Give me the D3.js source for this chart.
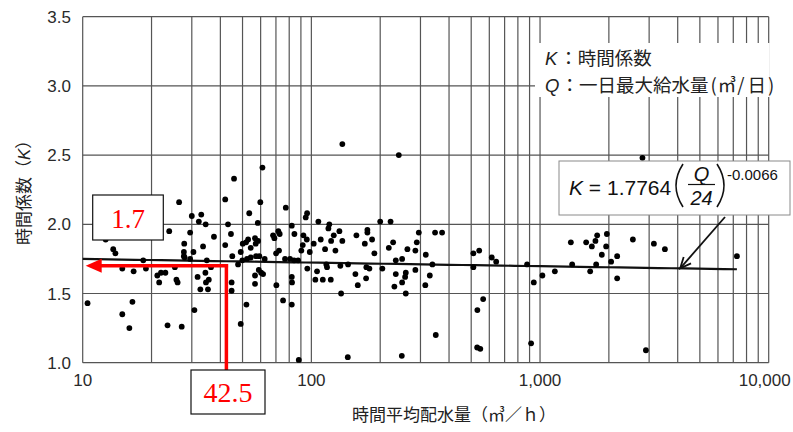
<!DOCTYPE html>
<html>
<head>
<meta charset="utf-8">
<script src="https://cdn.jsdelivr.net/npm/d3@7"></script>
<style>
  body { margin: 0; background: #fff; }
  svg { display: block; }
</style>
</head>
<body>
<svg id="chart"></svg>
<script>
// 時間平均配水量 (m3/h) と 時間係数 K の実測点
const flowRate = [
  45.9, 42, 26.4, 30, 33, 32.2, 34.5, 43.2, 23.9, 29.5, 44.5, 37.5, 12.6, 27.8, 33.6, 42, 13.6, 13.9,
  27.7, 30.5, 27.7, 45.1, 49.1, 27.9, 29.5, 34.9, 18.4, 47.8, 14.9, 16.7, 18.9, 25.3, 36.4, 21.2, 22, 23,
  31.8, 34.4, 35.6, 34.6, 21.6, 25.7, 26, 44.8, 32.7, 35.3, 44.8, 10.5, 16.5, 14.9, 30.8, 16, 23.5, 27.1,
  136.6, 61.1, 59.8, 77.3, 53.5, 95.8, 94.5, 58.3, 82.1, 107.3, 119.8, 118.7, 200, 222, 71.7, 72.7, 84.3,
  68, 68.9, 92.3, 95.5, 132.6, 125.3, 122, 109.9, 136.6, 157.4, 175.8, 175.8, 184.3, 171.3, 188.6, 218.1,
  50.1, 51.8, 52.9, 56.7, 58.5, 57.1, 54.3, 52.3, 54.3, 57.3, 59.2, 62.5, 49.9, 70.1, 72.2, 90.4, 91.7,
  98.4, 102.4, 114.8, 127.4, 76.7, 80.7, 84, 87.5, 116.3, 117.1, 133.9, 144.7, 174, 179.4, 204.4, 96,
  105.9, 58.9, 60.3, 61.5, 56.7, 56.7, 82.1, 82.3, 70.3, 104.1, 112.2, 121.6, 155.8, 159.6, 173.5, 134.9,
  52, 75.2, 82.1, 49.1, 88.1, 144.3,
  241.2, 295, 347.5, 373, 227.8, 289.1, 263, 285, 316.5, 234, 249.4, 338.3, 234, 258.8, 257, 285, 329.6,
  230.7, 249.4, 315, 258.8, 350, 248.6, 511, 542, 511, 615, 643, 564, 532, 531, 548, 878, 939, 1024, 914,
  2805, 1364, 1591, 1685, 1747, 1778, 1960, 1946, 1863, 2174, 2547, 3147, 3516, 2046, 1760, 1382, 1161,
  1657, 2174, 7260, 2904
];
const hourCoef = [
  2.33, 2.18, 2.16, 2.06, 2.07, 2.02, 2.00, 2.00, 1.95, 1.94, 1.93, 1.91, 1.89, 1.86, 1.84, 1.85, 1.82, 1.79,
  1.80, 1.80, 1.77, 1.77, 1.80, 1.76, 1.75, 1.74, 1.74, 1.71, 1.68, 1.66, 1.68, 1.69, 1.69, 1.63, 1.65, 1.65,
  1.62, 1.65, 1.60, 1.58, 1.58, 1.60, 1.58, 1.58, 1.53, 1.53, 1.52, 1.43, 1.44, 1.35, 1.38, 1.25, 1.27, 1.26,
  2.58, 2.41, 2.16, 2.12, 2.08, 2.08, 2.05, 2.01, 1.99, 2.02, 2.00, 1.97, 2.02, 2.02, 1.95, 1.93, 1.93,
  1.92, 1.90, 1.92, 1.89, 1.95, 1.92, 1.88, 1.89, 1.88, 1.92, 1.96, 1.94, 1.89, 1.86, 1.79, 1.83,
  1.86, 1.87, 1.89, 1.90, 1.88, 1.86, 1.83, 1.75, 1.76, 1.77, 1.77, 1.75, 1.74, 1.79, 1.81, 1.81, 1.85,
  1.80, 1.86, 1.82, 1.81, 1.75, 1.75, 1.74, 1.74, 1.71, 1.69, 1.70, 1.71, 1.69, 1.68, 1.68, 1.68,
  1.66, 1.67, 1.65, 1.64, 1.63, 1.57, 1.62, 1.58, 1.56, 1.60, 1.60, 1.60, 1.64, 1.56, 1.61, 1.50,
  1.42, 1.45, 1.42, 1.28, 1.02, 1.04,
  2.50, 1.94, 1.94, 1.94, 1.87, 1.87, 1.82, 1.81, 1.78, 1.74, 1.75, 1.71, 1.64, 1.65, 1.62, 1.67, 1.63,
  1.55, 1.58, 1.56, 1.50, 1.20, 1.05, 1.79, 1.81, 1.69, 1.76, 1.73, 1.46, 1.38, 1.11, 1.10, 1.71, 1.58, 1.63, 1.14,
  2.48, 1.87, 1.87, 1.84, 1.88, 1.92, 1.93, 1.84, 1.78, 1.77, 1.89, 1.86, 1.82, 1.73, 1.71, 1.71, 1.66,
  1.66, 1.61, 1.77, 1.09
];

const xTickValues = [10, 100, 1000, 10000];
const xTickLabels = ["10", "100", "1,000", "10,000"];
const yTickValues = [1.0, 1.5, 2.0, 2.5, 3.0, 3.5];
const yTickLabels = ["1.0", "1.5", "2.0", "2.5", "3.0", "3.5"];

// 回帰式 K = 1.7764 (Q/24)^-0.0066
const fitCoef = 1.7764;
const fitExp = -0.0066;
const fitRange = [10, 7260];
const arrowFlow = 4100;

// 赤の読み取り注記
const markFlow = 42.5;
const markK = 1.7;

const W = 793, H = 432;
const margin = { top: 16.7, right: 24.3, bottom: 69.3, left: 82.7 };

const svg = d3.select("#chart")
  .attr("width", W)
  .attr("height", H)
  .style("font-family", "'Liberation Sans', Arial, sans-serif");

const x = d3.scaleLog()
  .domain([10, 10000])
  .range([margin.left, W - margin.right]);

const y = d3.scaleLinear()
  .domain([1, 3.5])
  .range([H - margin.bottom, margin.top]);

const gridColor = "#555";

// 縦グリッド（対数）
const logLines = [];
[10, 100, 1000].forEach(dec => d3.range(1, 10).forEach(m => logLines.push(dec * m)));
logLines.push(10000);

svg.append("g")
  .selectAll("line")
  .data(logLines)
  .join("line")
  .attr("x1", d => x(d)).attr("x2", d => x(d))
  .attr("y1", y(1)).attr("y2", y(3.5))
  .attr("stroke", gridColor)
  .attr("stroke-width", 1.2);

svg.append("g")
  .selectAll("line")
  .data(yTickValues)
  .join("line")
  .attr("x1", x(10)).attr("x2", x(10000))
  .attr("y1", d => y(d)).attr("y2", d => y(d))
  .attr("stroke", gridColor)
  .attr("stroke-width", 1.2);

// 目盛ラベル
svg.append("g")
  .selectAll("text")
  .data(yTickValues)
  .join("text")
  .attr("x", 71)
  .attr("y", d => y(d))
  .attr("dy", "0.36em")
  .attr("text-anchor", "end")
  .attr("font-size", 17)
  .attr("fill", "#2a2a2a")
  .text((d, i) => yTickLabels[i]);

svg.append("g")
  .selectAll("text")
  .data(xTickValues)
  .join("text")
  .attr("x", d => x(d))
  .attr("dx", (d, i) => i === xTickValues.length - 1 ? -4 : 0)
  .attr("y", 386)
  .attr("text-anchor", "middle")
  .attr("font-size", 17)
  .attr("fill", "#2a2a2a")
  .text((d, i) => xTickLabels[i]);

// 軸タイトル
const jp = "'Noto Sans CJK JP', 'Noto Sans', sans-serif";

svg.append("text")
  .attr("x", 352)
  .attr("y", 421)
  .attr("font-family", jp)
  .attr("font-size", 17)
  .attr("fill", "#222")
  .text("時間平均配水量（㎥／ｈ）");

const yt = svg.append("text")
  .attr("transform", "translate(30,245) rotate(-90)")
  .attr("font-family", jp)
  .attr("font-size", 17)
  .attr("fill", "#222");
yt.append("tspan").text("時間係数（");
yt.append("tspan").attr("font-family", "'Liberation Sans', Arial, sans-serif").attr("font-style", "italic").text("K");
yt.append("tspan").text("）");

// 凡例（白地）
svg.append("rect")
  .attr("x", 535).attr("y", 43)
  .attr("width", x(10000) - 535 + 1).attr("height", 54)
  .attr("fill", "#fff");

const lg1 = svg.append("text")
  .attr("x", 545).attr("y", 65)
  .attr("font-family", jp).attr("font-size", 18.5).attr("fill", "#222");
lg1.append("tspan").attr("font-family", "'Liberation Sans', Arial, sans-serif").attr("font-style", "italic").text("K");
lg1.append("tspan").attr("dx", 2).text("：時間係数");

const lg2 = svg.append("text")
  .attr("x", 545).attr("y", 92)
  .attr("font-family", jp).attr("font-size", 18.5).attr("fill", "#222");
lg2.append("tspan").attr("font-family", "'Liberation Sans', Arial, sans-serif").attr("font-style", "italic").text("Q");
lg2.append("tspan").attr("dx", 1).text("：一日最大給水量");
lg2.append("tspan").attr("dx", 2).text("(");
lg2.append("tspan").attr("dx", 1).text("㎥");
lg2.append("tspan").attr("dx", 1).text("/");
lg2.append("tspan").attr("dx", 3).text("日");
lg2.append("tspan").attr("dx", 2).text(")");

// 回帰線
const fit = q => fitCoef * Math.pow(q, fitExp);
const lx = d3.scaleLog().domain(fitRange);
const fitPts = d3.range(0, 1.0001, 0.02).map(t => lx.invert(t)).map(q => [q, fit(q)]);

svg.append("path")
  .datum(fitPts)
  .attr("fill", "none")
  .attr("stroke", "#111")
  .attr("stroke-width", 2.2)
  .attr("d", d3.line().x(d => x(d[0])).y(d => y(d[1])));

// 散布点
svg.append("g")
  .selectAll("circle")
  .data(flowRate.map((q, i) => [q, hourCoef[i]]))
  .join("circle")
  .attr("cx", d => x(d[0]))
  .attr("cy", d => y(d[1]))
  .attr("r", 2.9)
  .attr("fill", "#000");

// 式の枠
const bx = 559, by = 161, bw = 231, bh = 54;
svg.append("rect")
  .attr("x", bx).attr("y", by)
  .attr("width", bw).attr("height", bh)
  .attr("fill", "#fff")
  .attr("stroke", "#8a8a8a")
  .attr("stroke-width", 1);

const eq = svg.append("text")
  .attr("x", 569).attr("y", 195)
  .attr("font-size", 21).attr("fill", "#111");
eq.append("tspan").attr("font-style", "italic").text("K");
eq.append("tspan").text(" = 1.7764");

svg.append("path")
  .attr("d", "M683,164 Q669,185.5 683,207")
  .attr("fill", "none").attr("stroke", "#111").attr("stroke-width", 1.6);
svg.append("path")
  .attr("d", "M717,164 Q731,185.5 717,207")
  .attr("fill", "none").attr("stroke", "#111").attr("stroke-width", 1.6);

svg.append("text")
  .attr("x", 701.5).attr("y", 180.5)
  .attr("text-anchor", "middle")
  .attr("font-size", 20).attr("font-style", "italic").attr("fill", "#111")
  .text("Q");
svg.append("line")
  .attr("x1", 688).attr("x2", 715)
  .attr("y1", 184.5).attr("y2", 184.5)
  .attr("stroke", "#111").attr("stroke-width", 1.2);
svg.append("text")
  .attr("x", 701.5).attr("y", 205)
  .attr("text-anchor", "middle")
  .attr("font-size", 20).attr("font-style", "italic").attr("fill", "#111")
  .text("24");
svg.append("text")
  .attr("x", 727).attr("y", 180)
  .attr("font-size", 15).attr("fill", "#111")
  .text(fitExp.toFixed(4));

// 矢印（式 → 回帰線）
const ax0 = 725, ay0 = 217;
const ax1 = x(arrowFlow), ay1 = y(fit(arrowFlow));
svg.append("line")
  .attr("x1", ax0).attr("y1", ay0).attr("x2", ax1).attr("y2", ay1)
  .attr("stroke", "#111").attr("stroke-width", 1.8);
const ang = Math.atan2(ay1 - ay0, ax1 - ax0);
const headLen = 12;
svg.append("path")
  .attr("d", `M${ax1 - headLen * Math.cos(ang - 0.42)},${ay1 - headLen * Math.sin(ang - 0.42)} L${ax1},${ay1} L${ax1 - headLen * Math.cos(ang + 0.42)},${ay1 - headLen * Math.sin(ang + 0.42)}`)
  .attr("fill", "none").attr("stroke", "#111").attr("stroke-width", 1.8);

// 赤い読み取り線
const red = "#ff0000";
const mx = x(markFlow), my = y(markK);
svg.append("line")
  .attr("x1", mx).attr("x2", mx)
  .attr("y1", my - 1.7).attr("y2", 370)
  .attr("stroke", red).attr("stroke-width", 3.5);
svg.append("line")
  .attr("x1", mx + 1.7).attr("x2", x(10) + 16)
  .attr("y1", my).attr("y2", my)
  .attr("stroke", red).attr("stroke-width", 3.5);
svg.append("path")
  .attr("d", `M${x(10) + 3},${my} L${x(10) + 19},${my - 7} L${x(10) + 19},${my + 7} Z`)
  .attr("fill", red);

// 注記の箱
const serif = "'Liberation Serif', 'Times New Roman', serif";
svg.append("rect")
  .attr("x", 92.7).attr("y", 195).attr("width", 70.6).attr("height", 45)
  .attr("fill", "#fff").attr("stroke", "#111").attr("stroke-width", 1.2);
svg.append("text")
  .attr("x", 128).attr("y", 228)
  .attr("text-anchor", "middle")
  .attr("font-family", serif).attr("font-size", 27).attr("fill", red)
  .text(markK.toFixed(1));

svg.append("rect")
  .attr("x", 191).attr("y", 370).attr("width", 74).attr("height", 44)
  .attr("fill", "#fff").attr("stroke", "#111").attr("stroke-width", 1.2);
svg.append("text")
  .attr("x", 228).attr("y", 402)
  .attr("text-anchor", "middle")
  .attr("font-family", serif).attr("font-size", 28).attr("fill", red)
  .text(String(markFlow));
</script>
</body>
</html>
